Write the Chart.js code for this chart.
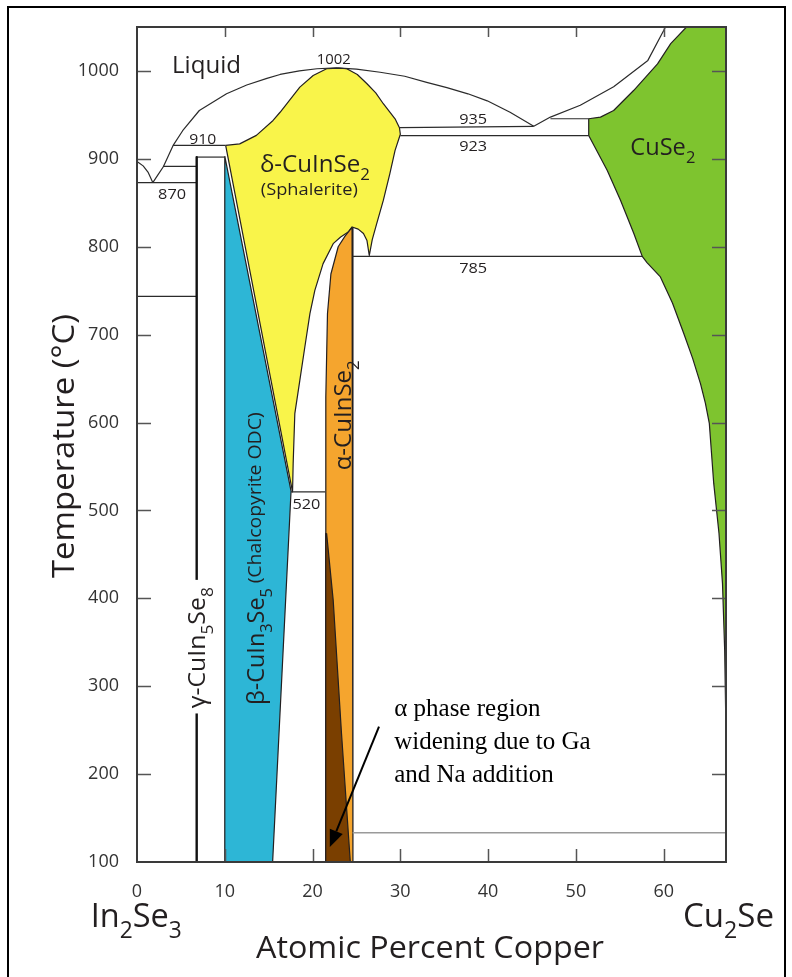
<!DOCTYPE html>
<html>
<head>
<meta charset="utf-8">
<title>In2Se3 - Cu2Se phase diagram</title>
<script src="https://cdn.jsdelivr.net/npm/chart.js@4.4.1/dist/chart.umd.min.js"></script>
<style>
  html, body { margin: 0; padding: 0; background: #fff; }
  canvas { display: block; }
</style>
</head>
<body>
<canvas id="diagram" width="792" height="977"></canvas>
<script>
// Pseudo-binary In2Se3 - Cu2Se phase diagram
// x = atomic percent copper, t = temperature in °C

var xTicks = [0, 10, 20, 30, 40, 50, 60];
var tTicks = [100, 200, 300, 400, 500, 600, 700, 800, 900, 1000];

// phase fields (closed outlines)
var cuse2X = [62.6, 67.1, 67.1, 66.95, 66.7, 66.3, 65.7, 65.45, 65.2, 64.75, 64.2, 63.3, 62.3, 61.0, 59.6, 58.1, 57.56, 56.6, 55.08, 53.56, 51.46, 51.46, 52.8, 54.3, 56.6, 59.3, 60.8, 62.6];
var cuse2T = [1050, 1050, 246, 341, 417, 474, 531, 565, 599, 622, 644, 673, 701, 736, 766, 782, 789, 815, 853, 887, 926.5, 945.6, 947.5, 955, 978, 1008, 1031, 1050];

var betaX = [10, 17.55, 15.45, 10, 10];
var betaT = [903, 522, 100, 100, 903];

var deltaX = [10.1, 11.7, 13.6, 15.5, 16.3, 18.55, 20.07, 21.6, 23.0, 23.9, 25.1, 26.2, 27.2, 28.06, 29.4, 29.9, 30.0, 29.4, 28.8, 28.06, 27.3, 26.8, 26.46, 26.2, 25.8, 25.2, 24.5, 24.06, 23.2, 22.35, 21.2, 20.26, 19.7, 19.12, 18.55, 17.98, 17.79, 17.72, 10.1];
var deltaT = [915.3, 917, 926.7, 943.7, 953, 981.6, 994.9, 1002.5, 1003.2, 1002.5, 996, 985.4, 975, 962.7, 945.6, 935.4, 928, 909.6, 883, 852.7, 826, 808, 790, 807, 815, 820, 822.5, 816.7, 811, 803.5, 780.8, 750.4, 723.9, 685.9, 648, 610.2, 553.3, 521, 915.3];

var alphaX = [24.5, 24.6, 24.6, 21.5, 21.5, 21.52, 21.7, 22.09, 22.92, 23.7, 24.5];
var alphaT = [822, 812, 100, 100, 521, 629, 724, 769, 800, 812, 822];

// widened alpha field with Ga and Na
var widenX = [21.5, 21.5, 24.3, 23.3, 22.35, 21.6];
var widenT = [474, 100, 100, 246, 398, 474];

// liquidus and other boundaries
var liqLeftX = [0, 0.7, 1.25, 1.8];
var liqLeftT = [897, 892, 885, 873];
var liqMidX = [1.8, 2.4, 3.0, 4.1, 5.2, 7.1, 10.2, 12.5, 14.8, 16.3, 18.5, 20.5, 22.7, 25, 27.7, 30.5, 33, 35.3, 37.7, 39.9, 42.5, 45.2];
var liqMidT = [873, 882, 891, 915, 932, 955, 974, 984, 991.5, 996, 1000, 1002.5, 1003.5, 1002, 998.5, 994, 987, 981, 974, 966, 953, 937];
var liqRightX = [45.2, 47.1, 50.5, 54.3, 58.2, 60, 60.2];
var liqRightT = [937, 947.5, 961, 982, 1012, 1046, 1050];

var gammaX = [6.8, 6.8];
var gammaT = [902, 100];
var gammaTopX = [6.8, 10];
var gammaTopT = [902, 902];

// invariant lines
var iso935X = [29.9, 45.2];     var iso935T = [935.5, 937];
var iso923X = [30.0, 51.46];    var iso923T = [926.5, 926.5];
var iso946X = [47.1, 51.46];    var iso946T = [945.6, 945.6];
var iso910X = [4.1, 10.1];      var iso910T = [915.3, 915.3];
var iso891X = [2.95, 6.8];      var iso891T = [891.4, 891.4];
var iso870X = [0, 6.8];         var iso870T = [873, 873];
var iso744X = [0, 6.8];         var iso744T = [743.6, 743.6];
var iso520X = [17.55, 21.45];   var iso520T = [521, 521];
var iso785X = [24.57, 57.56];   var iso785T = [789, 789];
var iso133X = [24.57, 67.1];    var iso133T = [133.3, 133.3];

var sansFont = '"Open Sans", "DejaVu Sans", sans-serif';
var serifFont = '"Liberation Serif", "DejaVu Serif", serif';
var ink = '#231f20';

function pts(xs, ts) {
  var out = [];
  for (var i = 0; i < xs.length; i++) out.push({ x: xs[i], y: ts[i] });
  return out;
}

function region(xs, ts, color) {
  return {
    data: pts(xs, ts), fill: 'shape', backgroundColor: color,
    borderColor: ink, borderWidth: 1.2, pointRadius: 0, tension: 0,
    borderJoinStyle: 'round'
  };
}

function boundary(xs, ts, width, color) {
  return {
    data: pts(xs, ts), fill: false, borderColor: color || '#2b2b2b',
    borderWidth: width || 1.2, pointRadius: 0, tension: 0,
    borderJoinStyle: 'round'
  };
}

// labels inside the plot, placed in data coordinates
var plotLabels = [
  { parts: ['Liquid'], x: 3.99, t: 998, size: 24, width: 69 },
  { parts: ['1002'], x: 22.4, t: 1008, size: 15, width: 34, align: 'center' },
  { parts: ['910'], x: 7.48, t: 916.4, size: 15, width: 27, align: 'center' },
  { parts: ['870'], x: 4.0, t: 854, size: 15, width: 28, align: 'center' },
  { parts: ['935'], x: 38.3, t: 939.2, size: 15, width: 28, align: 'center' },
  { parts: ['923'], x: 38.3, t: 908.8, size: 15, width: 28, align: 'center' },
  { parts: ['785'], x: 38.3, t: 770.5, size: 15, width: 28, align: 'center' },
  { parts: ['520'], x: 19.3, t: 502, size: 15, width: 28, align: 'center' },
  { parts: ['δ-CuInSe', '2'], x: 14.0, t: 885, size: 24, width: 110 },
  { parts: ['(Sphalerite)'], x: 14.1, t: 858.4, size: 17, width: 97 },
  { parts: ['CuSe', '2'], x: 56.2, t: 904, size: 24, width: 65 },
  { parts: ['β-CuIn', '3', 'Se', '5'], x: 14.5, t: 278.6, size: 24, width: 117, rotated: true },
  { parts: ['(Chalcopyrite ODC)'], x: 14.1, t: 417, size: 18, width: 171, rotated: true },
  { parts: ['γ-CuIn', '5', 'Se', '8'], x: 7.8, t: 275, size: 24, width: 121, rotated: true, knockout: [269, 421] },
  { parts: ['α-CuInSe', '2'], x: 24.43, t: 545.6, size: 23, width: 110, rotated: true }
];

var noteLines = ['α phase region', 'widening due to Ga', 'and Na addition'];
var noteX = 29.3;
var noteT = [265.8, 228.3, 190.8];
var arrowFrom = [27.57, 254];
var arrowTo = [21.97, 117];

function drawChem(ctx, parts, px, py, size, width, align, rotated, family) {
  family = family || sansFont;
  var subSize = size * 0.7;
  var widths = [], total = 0, i;
  for (i = 0; i < parts.length; i++) {
    ctx.font = (i % 2 ? subSize : size) + 'px ' + family;
    widths.push(ctx.measureText(parts[i]).width);
    total += widths[i];
  }
  var k = width ? width / total : 1;
  ctx.save();
  ctx.translate(px, py);
  if (rotated) ctx.rotate(-Math.PI / 2);
  ctx.scale(k, 1);
  ctx.textAlign = 'left';
  ctx.textBaseline = 'alphabetic';
  var cx = align === 'center' ? -total / 2 : 0;
  for (i = 0; i < parts.length; i++) {
    ctx.font = (i % 2 ? subSize : size) + 'px ' + family;
    ctx.fillText(parts[i], cx, i % 2 ? size * 0.33 : 0);
    cx += widths[i];
  }
  ctx.restore();
}

var decor = {
  id: 'decor',
  afterDatasetsDraw: function(chart) {
    var ctx = chart.ctx, a = chart.chartArea;
    var xs = chart.scales.x, ys = chart.scales.y;
    var i, p;

    // labels
    ctx.save();
    ctx.fillStyle = ink;
    plotLabels.forEach(function(l) {
      var px = xs.getPixelForValue(l.x), py = ys.getPixelForValue(l.t);
      if (l.knockout) {
        ctx.fillStyle = '#fff';
        var top = ys.getPixelForValue(l.knockout[1]), bot = ys.getPixelForValue(l.knockout[0]);
        ctx.fillRect(px - 22, top, 22, bot - top);
        ctx.fillStyle = ink;
      }
      drawChem(ctx, l.parts, px, py, l.size, l.width, l.align, l.rotated);
    });

    // note and arrow
    ctx.font = '25px ' + serifFont;
    ctx.fillStyle = '#000';
    ctx.textAlign = 'left';
    ctx.textBaseline = 'alphabetic';
    for (i = 0; i < noteLines.length; i++) {
      ctx.fillText(noteLines[i], xs.getPixelForValue(noteX), ys.getPixelForValue(noteT[i]));
    }
    var x1 = xs.getPixelForValue(arrowFrom[0]), y1 = ys.getPixelForValue(arrowFrom[1]);
    var x2 = xs.getPixelForValue(arrowTo[0]), y2 = ys.getPixelForValue(arrowTo[1]);
    var ang = Math.atan2(y2 - y1, x2 - x1);
    var hx = x2 - 17 * Math.cos(ang), hy = y2 - 17 * Math.sin(ang);
    ctx.strokeStyle = '#000';
    ctx.lineWidth = 2;
    ctx.beginPath();
    ctx.moveTo(x1, y1);
    ctx.lineTo(hx, hy);
    ctx.stroke();
    ctx.beginPath();
    ctx.moveTo(x2, y2);
    ctx.lineTo(hx + 7 * Math.sin(ang), hy - 7 * Math.cos(ang));
    ctx.lineTo(hx - 7 * Math.sin(ang), hy + 7 * Math.cos(ang));
    ctx.closePath();
    ctx.fill();

    // inward ticks on all four sides
    ctx.strokeStyle = '#555';
    ctx.lineWidth = 1.5;
    ctx.beginPath();
    tTicks.forEach(function(t) {
      if (t === 100) return;
      p = Math.round(ys.getPixelForValue(t)) + 0.5;
      ctx.moveTo(a.left, p); ctx.lineTo(a.left + 14, p);
      ctx.moveTo(a.right, p); ctx.lineTo(a.right - 14, p);
    });
    xTicks.forEach(function(v) {
      if (v === 0) return;
      p = Math.round(xs.getPixelForValue(v)) + 0.5;
      ctx.moveTo(p, a.bottom); ctx.lineTo(p, a.bottom - 13);
      ctx.moveTo(p, a.top); ctx.lineTo(p, a.top + 10);
    });
    ctx.stroke();

    // plot frame
    ctx.strokeStyle = '#3a3a3a';
    ctx.lineWidth = 2;
    ctx.strokeRect(a.left, a.top, a.right - a.left, a.bottom - a.top);
    ctx.restore();
  },
  afterDraw: function(chart) {
    var ctx = chart.ctx;
    ctx.save();
    ctx.fillStyle = ink;
    drawChem(ctx, ['Temperature (°C)'], 74, 446, 31, 264, 'center', true);
    drawChem(ctx, ['In', '2', 'Se', '3'], 90.7, 926.7, 33, 91);
    drawChem(ctx, ['Cu', '2', 'Se'], 683, 926.7, 33, 91);
    drawChem(ctx, ['Atomic Percent Copper'], 430, 958, 31, 348, 'center');
    // outer figure border
    ctx.strokeStyle = '#000';
    ctx.lineWidth = 2;
    ctx.strokeRect(8, 7, 777, 990);
    ctx.restore();
  }
};

new Chart(document.getElementById('diagram'), {
  type: 'line',
  data: {
    datasets: [
      boundary(liqLeftX, liqLeftT),
      boundary(liqMidX, liqMidT),
      boundary(liqRightX, liqRightT),
      boundary(gammaX, gammaT, 2.4, '#111'),
      boundary(gammaTopX, gammaTopT),
      boundary(iso935X, iso935T),
      boundary(iso923X, iso923T),
      boundary(iso946X, iso946T),
      boundary(iso910X, iso910T),
      boundary(iso891X, iso891T),
      boundary(iso870X, iso870T),
      boundary(iso744X, iso744T),
      boundary(iso520X, iso520T),
      boundary(iso785X, iso785T),
      boundary(iso133X, iso133T, 1.5, '#9a9a9a'),
      region(widenX, widenT, '#7a3f00'),
      region(alphaX, alphaT, '#f5a52e'),
      region(deltaX, deltaT, '#f9f44a'),
      region(betaX, betaT, '#2db6d6'),
      region(cuse2X, cuse2T, '#7ec42f')
    ]
  },
  options: {
    responsive: false,
    animation: false,
    layout: { padding: { left: 0, right: 66, top: 27, bottom: 0 } },
    plugins: { legend: { display: false }, tooltip: { enabled: false } },
    scales: {
      x: {
        type: 'linear', min: 0, max: 67.1,
        afterBuildTicks: function(s) { s.ticks = xTicks.map(function(v) { return { value: v }; }); },
        afterFit: function(s) { s.height = 115; },
        grid: { display: false }, border: { display: false },
        ticks: {
          padding: 11, autoSkip: false, maxRotation: 0, color: '#333',
          font: { family: sansFont, size: 18 },
          callback: function(v) { return String(v); }
        }
      },
      y: {
        type: 'linear', min: 100, max: 1050,
        afterBuildTicks: function(s) { s.ticks = tTicks.map(function(v) { return { value: v }; }); },
        afterFit: function(s) { s.width = 137; },
        grid: { display: false }, border: { display: false },
        ticks: {
          padding: 10, autoSkip: false, color: '#333',
          font: { family: sansFont, size: 18 },
          callback: function(v) { return String(v); }
        }
      }
    }
  },
  plugins: [decor]
});
</script>
</body>
</html>
